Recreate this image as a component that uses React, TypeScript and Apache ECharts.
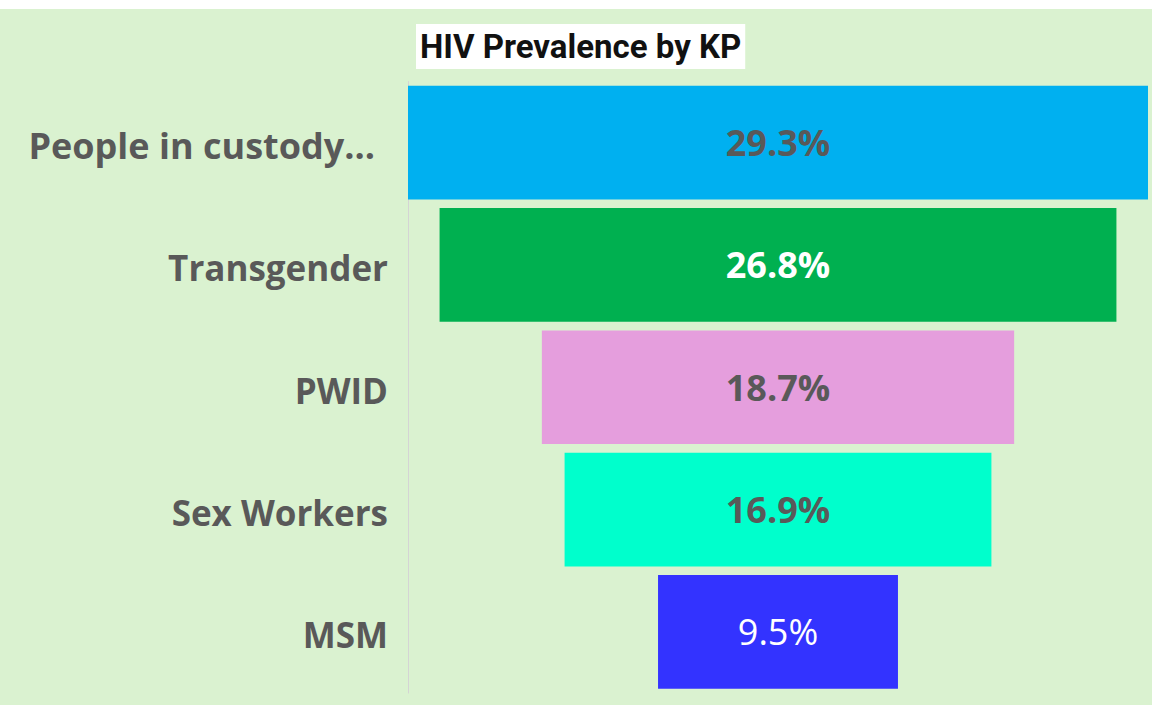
import React, { useEffect, useRef } from "react";
import * as echarts from "echarts";

const categories = ["People in custody...", "Transgender", "PWID", "Sex Workers", "MSM"];
const prevalence = [29.3, 26.8, 18.7, 16.9, 9.5];
const barColors = ["#00B0F0", "#00B050", "#E59EDD", "#00FFCC", "#3333FF"];
const labelColors = ["#595959", "#ffffff", "#595959", "#595959", "#ffffff"];
const labelWeights = ["bold", "bold", "bold", "bold", "normal"];
const titleText = "HIV Prevalence by KP";

export default function App() {
  const ref = useRef<HTMLDivElement>(null);
  useEffect(() => {
    document.body.style.margin = "0";
    const chart = echarts.init(ref.current!, null, { renderer: "svg" });
    const maxV = Math.max(...prevalence);
    const offsets = prevalence.map((v) => (maxV - v) / 2);
    chart.setOption({
      animation: false,
      backgroundColor: "#ffffff",
      graphic: [
        {
          type: "rect",
          z: -10,
          shape: { x: 0, y: 9, width: 1152, height: 696 },
          style: { fill: "#DAF2D0" },
        },
      ],
      title: {
        text: titleText,
        left: 416,
        top: 24,
        backgroundColor: "#ffffff",
        padding: [4, 4, 4, 4],
        textStyle: {
          fontFamily: "Roboto",
          fontWeight: "bold",
          fontSize: 33,
          lineHeight: 37,
          color: "#111111",
        },
      },
      grid: { left: 408, right: 4, top: 81.5, bottom: 12, containLabel: false },
      xAxis: {
        type: "value",
        min: 0,
        max: maxV,
        show: false,
      },
      yAxis: {
        type: "category",
        data: categories,
        inverse: true,
        axisLine: { show: true, lineStyle: { color: "#d4d4d4", width: 1 } },
        axisTick: { show: false },
        axisLabel: {
          margin: 20,
          formatter: (val: string, idx: number) => (idx === 0 ? "{a|" + val + "}" : "{b|" + val + "}"),
          rich: {
            a: {
              fontFamily: "Open Sans",
              fontWeight: "bold",
              fontSize: 36,
              color: "#595959",
              padding: [6, 13, 0, 0],
            },
            b: {
              fontFamily: "Open Sans",
              fontWeight: "bold",
              fontSize: 35,
              color: "#595959",
              padding: [6, 0, 0, 0],
            },
          },
        },
      },
      series: [
        {
          type: "bar",
          stack: "funnel",
          barWidth: "93%",
          silent: true,
          itemStyle: { color: "transparent" },
          data: offsets,
        },
        {
          type: "bar",
          stack: "funnel",
          barWidth: "93%",
          data: prevalence.map((v, i) => ({
            value: v,
            itemStyle: { color: barColors[i] },
            label: {
              show: true,
              position: "inside",
              formatter: v.toFixed(1) + "%",
              fontFamily: "Open Sans",
              fontSize: 36,
              fontWeight: labelWeights[i],
              color: labelColors[i],
              padding: [6, 0, 0, 0],
            },
          })),
        },
      ],
    });
    return () => chart.dispose();
  }, []);
  return <div ref={ref} style={{ width: 1152, height: 705 }} />;
}
